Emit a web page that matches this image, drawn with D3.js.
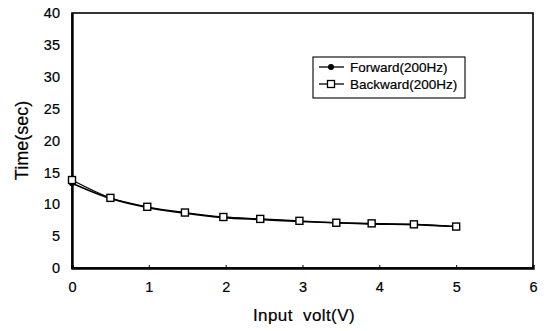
<!DOCTYPE html>
<html>
<head>
<meta charset="utf-8">
<script src="https://cdn.jsdelivr.net/npm/d3@7"></script>
<style>
  body { margin: 0; background: #fff; }
  text { font-family: "Liberation Sans", Arial, sans-serif; fill: #000; stroke: #000; stroke-width: 0.2px; }
</style>
</head>
<body>
<svg id="chart" width="546" height="331"></svg>
<script>

// values
const volts = [0, 0.5, 0.98, 1.47, 1.97, 2.45, 2.96, 3.44, 3.9, 4.45, 5.0];
const forward = [13.3, 10.9, 9.5, 8.6, 7.9, 7.6, 7.3, 7.1, 6.9, 6.8, 6.5];
const backward = [13.8, 11.0, 9.6, 8.7, 8.0, 7.7, 7.4, 7.1, 7.0, 6.85, 6.5];
const xTicks = [0, 1, 2, 3, 4, 5, 6];
const yTicks = [0, 5, 10, 15, 20, 25, 30, 35, 40];
const seriesNames = ["Forward(200Hz)", "Backward(200Hz)"];

let svg = d3.select("#chart");
let plotLeft = 72, plotRight = 533, plotTop = 13, plotBottom = 268;

let x = d3.scaleLinear().domain([0, 6]).range([plotLeft, plotRight]);
let y = d3.scaleLinear().domain([0, 40]).range([plotBottom, plotTop]);

// frame: left/bottom heavier like the scan
svg.append("rect")
  .attr("x", plotLeft).attr("y", plotTop)
  .attr("width", plotRight - plotLeft).attr("height", plotBottom - plotTop)
  .attr("fill", "none").attr("stroke", "#000").attr("stroke-width", 1.6);

let yAxis = svg.append("g")
  .attr("transform", "translate(" + plotLeft + ",0)")
  .call(d3.axisLeft(y).tickValues(yTicks).tickSize(0).tickPadding(12));
yAxis.select(".domain").attr("stroke-width", 2.4);
yAxis.selectAll("text").style("font-size", "14.5px").attr("font-family", null);

let xAxis = svg.append("g")
  .attr("transform", "translate(0," + plotBottom + ")")
  .call(d3.axisBottom(x).tickValues(xTicks).tickFormat(d3.format("d"))
    .tickSize(-3).tickPadding(14));
xAxis.select(".domain").attr("stroke-width", 2.4);
xAxis.selectAll("text").style("font-size", "14.5px").attr("font-family", null);

// axis titles
svg.append("text")
  .attr("transform", "translate(28," + ((plotTop + plotBottom) / 2) + ")rotate(-90)")
  .attr("text-anchor", "middle")
  .style("font-size", "18px")
  .text("Time(sec)");

svg.append("text")
  .attr("x", 304).attr("y", 321)
  .attr("text-anchor", "middle")
  .style("font-size", "17px")
  .style("letter-spacing", "0.4px")
  .text("Input\u00a0 volt(V)");

let line = d3.line()
  .x((d) => x(d[0]))
  .y((d) => y(d[1]))
  .curve(d3.curveMonotoneX);

let fwd = volts.map((v, i) => [v, forward[i]]);
let bwd = volts.map((v, i) => [v, backward[i]]);

svg.append("path").datum(fwd)
  .attr("d", line).attr("fill", "none")
  .attr("stroke", "#000").attr("stroke-width", 1.6);
svg.selectAll(".fwd").data(fwd).enter()
  .append("circle").attr("class", "fwd")
  .attr("cx", (d) => x(d[0])).attr("cy", (d) => y(d[1]))
  .attr("r", 3).attr("fill", "#000");

svg.append("path").datum(bwd)
  .attr("d", line).attr("fill", "none")
  .attr("stroke", "#000").attr("stroke-width", 1.3);
svg.selectAll(".bwd").data(bwd).enter()
  .append("rect").attr("class", "bwd")
  .attr("x", (d) => x(d[0]) - 3.5).attr("y", (d) => y(d[1]) - 3.5)
  .attr("width", 7).attr("height", 7)
  .attr("fill", "#fff").attr("stroke", "#000").attr("stroke-width", 1.4);

// legend
let legend = svg.append("g").attr("transform", "translate(313,57)");
legend.append("rect")
  .attr("width", 152).attr("height", 41)
  .attr("fill", "#fff").attr("stroke", "#000").attr("stroke-width", 1.1);

seriesNames.forEach((name, i) => {
  let ly = 10 + i * 17;
  legend.append("line")
    .attr("x1", 6).attr("x2", 31).attr("y1", ly).attr("y2", ly)
    .attr("stroke", "#000").attr("stroke-width", 1.3);
  if (i === 0)
    legend.append("circle").attr("cx", 18).attr("cy", ly).attr("r", 3).attr("fill", "#000");
  else
    legend.append("rect").attr("x", 14.5).attr("y", ly - 3.5)
      .attr("width", 7).attr("height", 7)
      .attr("fill", "#fff").attr("stroke", "#000").attr("stroke-width", 1.3);
  legend.append("text")
    .attr("x", 37).attr("y", ly + 5)
    .style("font-size", "13.5px")
    .text(name);
});

</script>
</body>
</html>
